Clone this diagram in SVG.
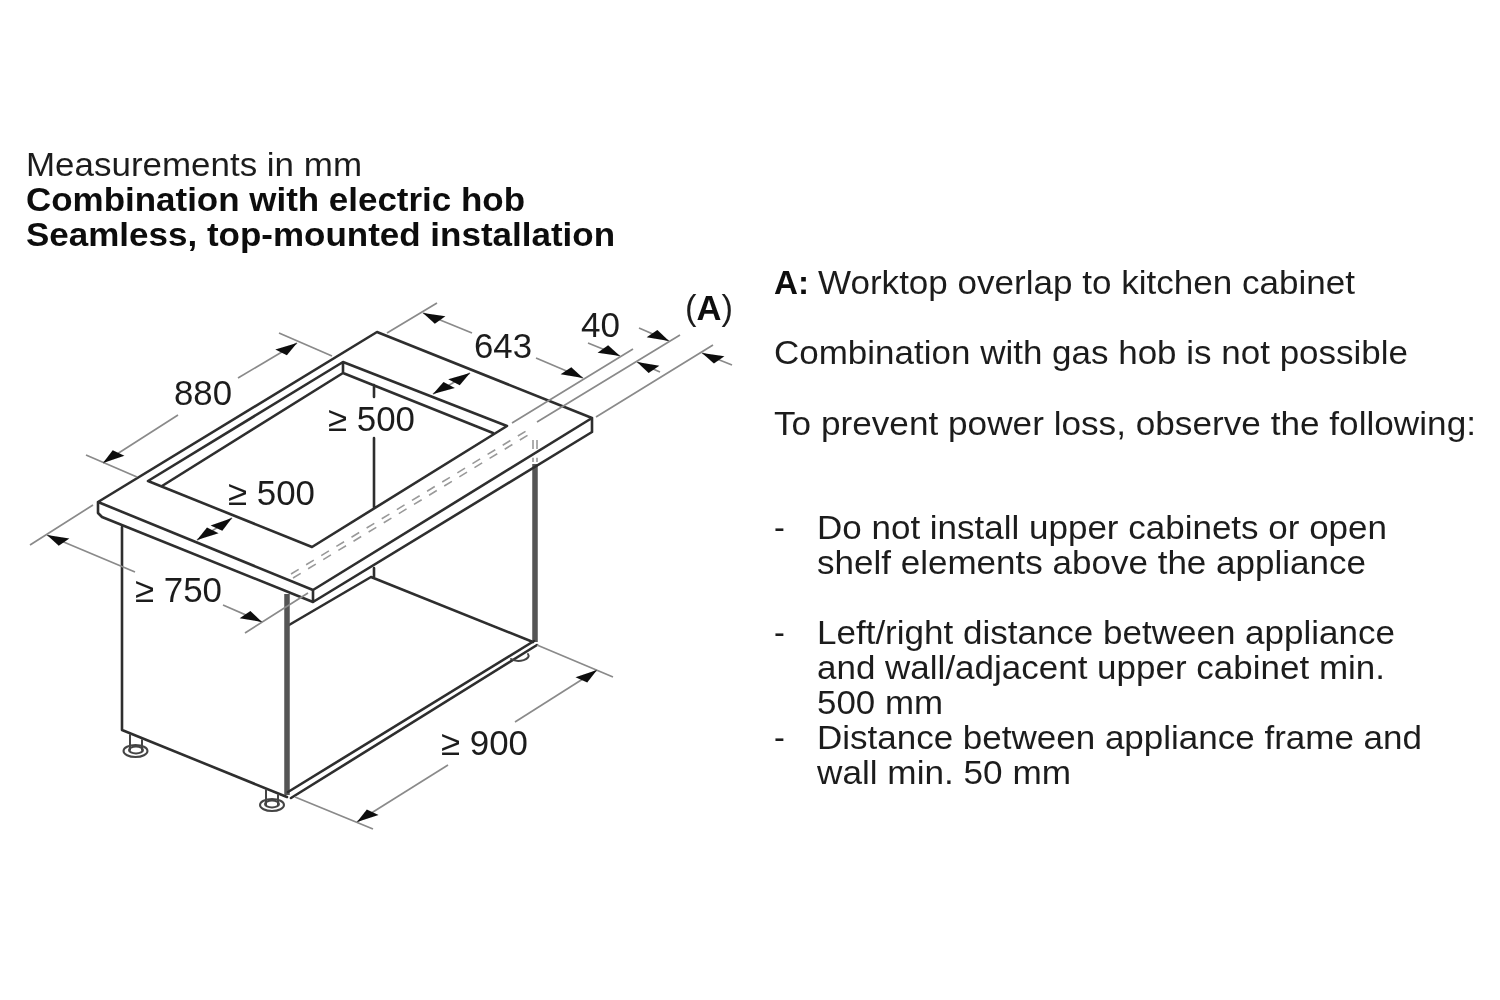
<svg xmlns="http://www.w3.org/2000/svg" width="1500" height="1000" viewBox="0 0 1500 1000">
<style>
text{font-family:"Liberation Sans",Arial,sans-serif;font-size:32.5px;fill:#1f1f1f}
.b{font-weight:700;fill:#111}
.n{font-size:35px}
.k{fill:none;stroke:#2e2e2e;stroke-width:2.6;stroke-linecap:round;stroke-linejoin:round}
.f{fill:none;stroke:#444;stroke-width:2;stroke-linecap:round}
.t{fill:none;stroke:#555;stroke-width:5.5}
.d{fill:none;stroke:#8a8a8a;stroke-width:1.7}
.h{fill:none;stroke:#999;stroke-width:1.6;stroke-dasharray:9 8.7}
.a{marker-end:url(#ma)}
.c{marker-end:url(#mb)}
</style>
<defs>
<filter id="soft" x="-5%" y="-5%" width="110%" height="110%"><feGaussianBlur stdDeviation="0.55"/></filter>
<marker id="ma" markerUnits="userSpaceOnUse" markerWidth="30" markerHeight="20" refX="24" refY="10" orient="auto" overflow="visible"><polygon points="24,10 9,15.4 2,4.6" fill="#0c0c0c"/></marker>
<marker id="mb" markerUnits="userSpaceOnUse" markerWidth="30" markerHeight="20" refX="24" refY="10" orient="auto" overflow="visible"><polygon points="24,10 9,4.6 2,15.4" fill="#0c0c0c"/></marker>
</defs>
<rect width="1500" height="1000" fill="#fff"/>
<g filter="url(#soft)">
<g id="cabinet">
<path class="k" d="M122 527V730L287 797M374 568V578M371 577L533 642M289 625L371 577"/>
<path class="t" d="M287 594V795M535 464V642"/>
<path class="k" d="M288 792L534 641M291 798L537 645"/>
</g>
<g id="feet">
<path class="f" d="M130 735V750M142 740V750M266 790V805M278 795V805"/>
<ellipse class="f" cx="135.500" cy="751" rx="12" ry="6"/>
<ellipse class="f" cx="136" cy="750" rx="7" ry="3.500"/>
<ellipse class="f" cx="272" cy="805" rx="12" ry="6"/>
<ellipse class="f" cx="272" cy="804" rx="7" ry="3.500"/>
<path class="f" d="M511 659A10 5 0 0 0 528 654"/>
</g>
<g id="worktop">
<path class="k" d="M98 502L377 332L592 418L313 590ZM98 502V513L102 517L313 602L592 432V418M313 590V602"/>
<path class="k" d="M148 481L343 362L507 426L312 547ZM162 486L343 373L493 433M343 362V373M374 385V397M374 438V508"/>
</g>
<g id="hidden-edge">
<path class="h" d="M291 574L531 428M293 578L533 432M533 440V462M537 440V462"/>
</g>
<g id="dimensions">
<path class="d" d="M86 455L137 477M279 333L332 356M93 505L30 545M245 633L308 593M437 303L387 333M633 349L512 423M680 335L537 422M713 345L596 417M537 645L613 677M295 797L373 829"/>
<path class="d a" d="M178 415L103 463"/>
<path class="d a" d="M238 378L297 343"/>
<path class="d c" d="M135 572L47 535"/>
<path class="d c" d="M223 605L262 622"/>
<path class="d a" d="M215 529L197 540"/>
<path class="d a" d="M215 529L232 518"/>
<path class="d a" d="M451 384L433 394"/>
<path class="d a" d="M451 384L470 373"/>
<path class="d c" d="M472 333L423 313"/>
<path class="d c" d="M536 358L583 378"/>
<path class="d c" d="M588 343L620 356"/>
<path class="d c" d="M639 328L669 341"/>
<path class="d c" d="M660 372L637 362"/>
<path class="d c" d="M732 365L702 353"/>
<path class="d a" d="M515 722L597 670"/>
<path class="d a" d="M448 765L357 822"/>
</g>
<g id="dim-labels">
<text class="n" x="174" y="405" textLength="58" lengthAdjust="spacingAndGlyphs">880</text>
<text class="n" x="474" y="358" textLength="58" lengthAdjust="spacingAndGlyphs">643</text>
<text class="n" x="581" y="337" textLength="39" lengthAdjust="spacingAndGlyphs">40</text>
<text class="n" x="685" y="320" textLength="48" lengthAdjust="spacingAndGlyphs">(<tspan class="b">A</tspan>)</text>
<text class="n" x="328" y="431" textLength="87" lengthAdjust="spacingAndGlyphs">≥ 500</text>
<text class="n" x="228" y="505" textLength="87" lengthAdjust="spacingAndGlyphs">≥ 500</text>
<text class="n" x="135" y="602" textLength="87" lengthAdjust="spacingAndGlyphs">≥ 750</text>
<text class="n" x="441" y="755" textLength="87" lengthAdjust="spacingAndGlyphs">≥ 900</text>
</g>
<g id="heading">
<text x="26" y="176" textLength="336" lengthAdjust="spacingAndGlyphs">Measurements in mm</text>
<text class="b" x="26" y="211" textLength="499" lengthAdjust="spacingAndGlyphs">Combination with electric hob</text>
<text class="b" x="26" y="246" textLength="589" lengthAdjust="spacingAndGlyphs">Seamless, top-mounted installation</text>
</g>
<g id="notes">
<text class="b" x="774" y="294" textLength="35" lengthAdjust="spacingAndGlyphs">A:</text>
<text x="818" y="294" textLength="537" lengthAdjust="spacingAndGlyphs">Worktop overlap to kitchen cabinet</text>
<text x="774" y="364" textLength="634" lengthAdjust="spacingAndGlyphs">Combination with gas hob is not possible</text>
<text x="774" y="435" textLength="702" lengthAdjust="spacingAndGlyphs">To prevent power loss, observe the following:</text>
<text x="774" y="539">-</text>
<text x="817" y="539" textLength="570" lengthAdjust="spacingAndGlyphs">Do not install upper cabinets or open</text>
<text x="817" y="574" textLength="549" lengthAdjust="spacingAndGlyphs">shelf elements above the appliance</text>
<text x="774" y="644">-</text>
<text x="817" y="644" textLength="578" lengthAdjust="spacingAndGlyphs">Left/right distance between appliance</text>
<text x="817" y="679" textLength="568" lengthAdjust="spacingAndGlyphs">and wall/adjacent upper cabinet min.</text>
<text x="817" y="714" textLength="126" lengthAdjust="spacingAndGlyphs">500 mm</text>
<text x="774" y="749">-</text>
<text x="817" y="749" textLength="605" lengthAdjust="spacingAndGlyphs">Distance between appliance frame and</text>
<text x="817" y="784" textLength="254" lengthAdjust="spacingAndGlyphs">wall min. 50 mm</text>
</g>
</g>
</svg>
